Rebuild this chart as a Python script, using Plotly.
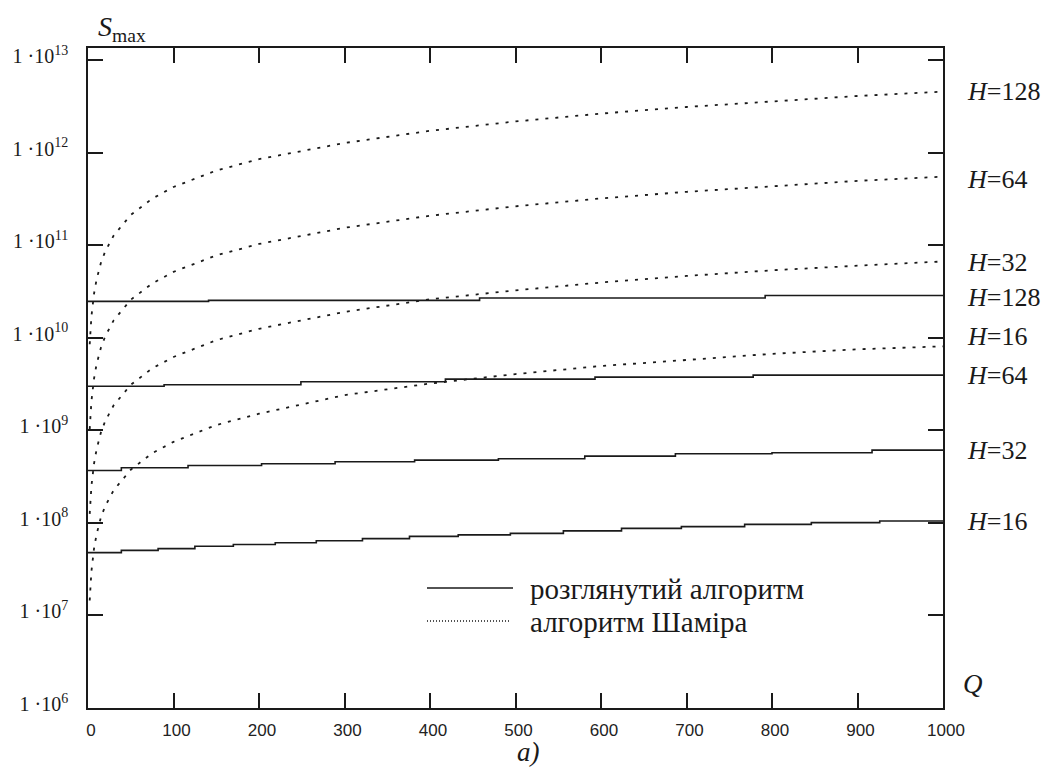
import numpy as np
import plotly.graph_objects as go

# ---------------- data ----------------
q_shamir = [2, 4, 7, 10, 15, 20, 30, 50, 75, 100, 150, 200, 300, 400, 500, 600, 700, 800, 900, 1000]
shamir_h128 = [8.5e9, 1.7e10, 2.97e10, 4.25e10, 6.4e10, 8.5e10, 1.27e11, 2.12e11, 3.18e11, 4.25e11,
               6.4e11, 8.5e11, 1.27e12, 1.72e12, 2.17e12, 2.64e12, 3.11e12, 3.60e12, 4.09e12, 4.55e12]
shamir_h64 = [1.03e9, 2.06e9, 3.6e9, 5.15e9, 7.75e9, 1.03e10, 1.54e10, 2.57e10, 3.85e10, 5.15e10,
              7.75e10, 1.03e11, 1.54e11, 2.08e11, 2.63e11, 3.2e11, 3.77e11, 4.36e11, 4.95e11, 5.5e11]
shamir_h32 = [1.25e8, 2.5e8, 4.35e8, 6.2e8, 9.4e8, 1.25e9, 1.86e9, 3.1e9, 4.66e9, 6.2e9,
              9.4e9, 1.25e10, 1.9e10, 2.6e10, 3.25e10, 3.95e10, 4.65e10, 5.35e10, 6.0e10, 6.67e10]
shamir_h16 = [1.45e7, 3.0e7, 5.25e7, 7.5e7, 1.14e8, 1.51e8, 2.25e8, 3.75e8, 5.65e8, 7.5e8,
              1.14e9, 1.51e9, 2.4e9, 3.2e9, 4.05e9, 4.95e9, 5.75e9, 6.7e9, 7.5e9, 8.07e9]

prop_h16_q = [0, 39, 82, 125, 170, 219, 267, 321, 376, 433, 494, 556, 624, 694, 768, 846, 926]
prop_h16 = [4.77e7, 5.05e7, 5.27e7, 5.59e7, 5.83e7, 6.09e7, 6.40e7, 6.75e7, 7.15e7, 7.42e7,
            7.70e7, 8.20e7, 8.72e7, 9.10e7, 9.63e7, 1.005e8, 1.046e8]
prop_h32_q = [0, 39, 117, 203, 289, 382, 480, 581, 687, 800, 917]
prop_h32 = [3.68e8, 3.94e8, 4.17e8, 4.35e8, 4.57e8, 4.76e8, 4.93e8, 5.26e8, 5.58e8, 5.72e8, 6.10e8]
prop_h64_q = [0, 89, 249, 418, 593, 778]
prop_h64 = [2.99e9, 3.10e9, 3.35e9, 3.57e9, 3.75e9, 3.95e9]
prop_h128_q = [0, 141, 458, 792]
prop_h128 = [2.47e10, 2.53e10, 2.69e10, 2.86e10]

q_end = 1000
x_ticks = [0, 100, 200, 300, 400, 500, 600, 700, 800, 900, 1000]
y_exponents = [6, 7, 8, 9, 10, 11, 12, 13]
legend_labels = ["розглянутий алгоритм", "алгоритм Шаміра"]

SERIF = "Liberation Serif, Times New Roman, serif"
SANS = "Liberation Sans, Arial, sans-serif"
INK = "#1a1a1a"

fig = go.Figure()

# Shamir (dotted)
shamir = [("H=128", shamir_h128, 0), ("H=64", shamir_h64, -3),
          ("H=32", shamir_h32, -1), ("H=16", shamir_h16, 10)]
for name, vals, _ in shamir:
    fig.add_trace(go.Scatter(x=q_shamir, y=vals, mode="lines",
                             line=dict(color=INK, width=1.8, dash="3px,7px"),
                             showlegend=False, hoverinfo="skip"))

# proposed algorithm (solid staircases)
prop = [("H=128", prop_h128_q, prop_h128, -2), ("H=64", prop_h64_q, prop_h64, 0),
        ("H=32", prop_h32_q, prop_h32, 0), ("H=16", prop_h16_q, prop_h16, 0)]
for name, qs, vals, _ in prop:
    fig.add_trace(go.Scatter(x=list(qs) + [q_end], y=list(vals) + [vals[-1]], mode="lines",
                             line=dict(color=INK, width=1.6, shape="hv"),
                             showlegend=False, hoverinfo="skip"))

# H labels to the right of the plot, anchored to series end values
for name, vals, dy in shamir:
    fig.add_annotation(x=q_end, y=np.log10(vals[-1]), xref="x", yref="y",
                       text="<i>H</i>=" + name[2:], showarrow=False, xanchor="left",
                       xshift=22, yshift=dy, font=dict(family=SERIF, size=26, color=INK))
for name, qs, vals, dy in prop:
    fig.add_annotation(x=q_end, y=np.log10(vals[-1]), xref="x", yref="y",
                       text="<i>H</i>=" + name[2:], showarrow=False, xanchor="left",
                       xshift=22, yshift=dy, font=dict(family=SERIF, size=26, color=INK))

# legend drawn manually
fig.add_shape(type="line", xref="paper", yref="paper", x0=(427 - 88) / 855, x1=(513 - 88) / 855,
              y0=(708 - 588) / 660, y1=(708 - 588) / 660, line=dict(color=INK, width=1.6))
fig.add_shape(type="line", xref="paper", yref="paper", x0=(427 - 88) / 855, x1=(511 - 88) / 855,
              y0=(708 - 621) / 660, y1=(708 - 621) / 660, line=dict(color=INK, width=1.3, dash="1px,2px"))
fig.add_annotation(x=(528 - 88) / 855, y=(708 - 589) / 660, xref="paper", yref="paper",
                   text=legend_labels[0], showarrow=False, xanchor="left", yanchor="middle",
                   font=dict(family=SERIF, size=29, color=INK))
fig.add_annotation(x=(528 - 88) / 855, y=(708 - 622) / 660, xref="paper", yref="paper",
                   text=legend_labels[1], showarrow=False, xanchor="left", yanchor="middle",
                   font=dict(family=SERIF, size=29, color=INK))

# axis titles and caption
fig.add_annotation(x=(96 - 88) / 855, y=(708 - 28) / 660, xref="paper", yref="paper",
                   text="<i>S</i><sub>max</sub>", showarrow=False, xanchor="left", yanchor="middle",
                   font=dict(family=SERIF, size=28, color=INK))
fig.add_annotation(x=(973 - 88) / 855, y=(708 - 684) / 660, xref="paper", yref="paper",
                   text="<i>Q</i>", showarrow=False, xanchor="center", yanchor="middle",
                   font=dict(family=SERIF, size=27, color=INK))
fig.add_annotation(x=(528 - 88) / 855, y=(708 - 752) / 660, xref="paper", yref="paper",
                   text="<i>a)</i>", showarrow=False, xanchor="center", yanchor="middle",
                   font=dict(family=SERIF, size=27, color=INK))

fig.update_xaxes(range=[0, 1000], tickvals=x_ticks, ticktext=[str(v) for v in x_ticks],
                 ticks="inside", ticklen=15, tickwidth=1.5, tickcolor=INK,
                 showline=True, linewidth=1.6, linecolor=INK, mirror="ticks",
                 showgrid=False, zeroline=False, ticklabelstandoff=6, ticklabelshift=3,
                 tickfont=dict(family=SANS, size=17, color="#222"))
fig.update_yaxes(type="log", range=[6, 13.13], tickvals=[10.0 ** e for e in y_exponents],
                 ticktext=["1 ·10<sup>%d</sup>" % e for e in y_exponents],
                 ticks="inside", ticklen=15, tickwidth=1.5, tickcolor=INK,
                 showline=True, linewidth=1.6, linecolor=INK, mirror="ticks",
                 showgrid=False, zeroline=False, ticklabelstandoff=14, ticklabelshift=-4,
                 tickfont=dict(family=SERIF, size=20, color=INK))

fig.update_layout(width=1043, height=767, margin=dict(l=88, r=100, t=48, b=59),
                  paper_bgcolor="white", plot_bgcolor="white", showlegend=False)

fig.write_html("out.html")
